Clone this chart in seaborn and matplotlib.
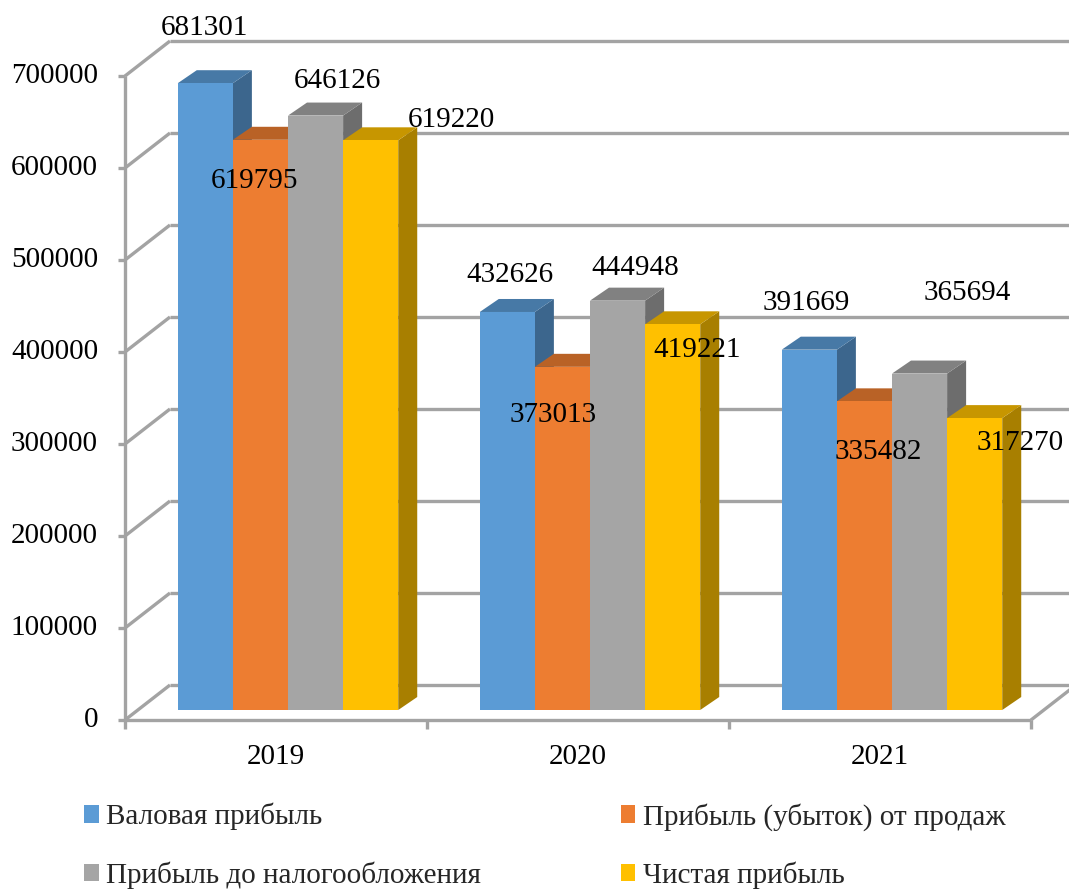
import pandas as pd
import matplotlib.pyplot as plt
import seaborn as sns
from matplotlib.patches import Polygon
from matplotlib.colors import to_rgb

# ==============================
# DATA
# ==============================

years = ['2019', '2020', '2021']
series = ['Валовая прибыль', 'Прибыль (убыток) от продаж',
          'Прибыль до налогообложения', 'Чистая прибыль']
gross = [681301, 432626, 391669]
sales = [619795, 373013, 335482]
pretax = [646126, 444948, 365694]
net = [619220, 419221, 317270]
yticks = [0, 100000, 200000, 300000, 400000, 500000, 600000, 700000]

colors = ['#5B9BD5', '#ED7D31', '#A5A5A5', '#FFC000']

# label offsets in pixels from the top centre of each bar (Excel put them oddly)
label_offsets = [
    [(-1, 55), (3, 37), (-3, 47)],
    [(-6, -41), (-9, -48), (14, -51)],
    [(22, 35), (18, 33), (48, 81)],
    [(81, 20), (24, -26), (45, -25)],
]

df = pd.DataFrame({
    'year': years * 4,
    'series': [s for s in series for _ in years],
    'value': gross + sales + pretax + net,
})

# ==============================
# SETUP
# ==============================

sns.set_style('white')
plt.rcParams['font.family'] = ['Liberation Serif', 'DejaVu Serif']
FS = 21

W, H = 1069, 892
fig = plt.figure(figsize=(W / 100, H / 100), dpi=100)
ax = fig.add_axes([137 / W, 182 / H, 906 / W, 644 / H])

sns.barplot(data=df, x='year', y='value', hue='series', palette=colors,
            width=0.73, saturation=1, ax=ax, linewidth=0)

ax.set_xlim(-0.5, 2.5)
ax.set_ylim(0, 700000)

# pixel -> data units
px = 1 / 302
py = 700000 / 644
FX, FY = -12 * px, -10 * py     # front plane
BX, BY = 33 * px, 25 * py       # back wall
DX, DY = 19 * px, 13 * py       # bar depth
L, R = -0.5, 2.5

handles, labels = ax.get_legend_handles_labels()
ax.get_legend().remove()

# ==============================
# 3D FRAME
# ==============================

gc = '#A3A3A3'
lw = 2.4
kw = dict(color=gc, lw=lw, clip_on=False, zorder=1, solid_capstyle='butt')

for v in yticks:
    ax.plot([L + FX, L + BX], [v + FY, v + BY], **kw)
    ax.plot([L + BX, R + BX + 0.05], [v + BY, v + BY], **kw)
    ax.plot([L + FX - 7 * px, L + FX], [v + FY, v + FY], **kw)

ax.plot([L + FX, L + FX], [FY, 700000 + FY], **kw)
ax.plot([L + FX, R + FX], [FY, FY], **kw)
ax.plot([R + FX, R + BX], [FY, BY], **kw)
for i in range(len(years) + 1):
    x = L + i + FX
    ax.plot([x, x], [FY, FY - 9 * py], **kw)

# ==============================
# 3D BARS
# ==============================

def shade(c, f):
    r, g, b = to_rgb(c)
    return (r * f, g * f, b * f)

for k, cont in enumerate(ax.containers):
    for j, bar in enumerate(cont):
        x0, w, h = bar.get_x(), bar.get_width(), bar.get_height()
        z = 3 + k * 0.1
        bar.set_zorder(z + 0.05)
        side = Polygon([(x0 + w, 0), (x0 + w, h), (x0 + w + DX, h + DY), (x0 + w + DX, DY)],
                       closed=True, facecolor=shade(colors[k], 0.66), edgecolor='none', zorder=z)
        top = Polygon([(x0, h), (x0 + w, h), (x0 + w + DX, h + DY), (x0 + DX, h + DY)],
                      closed=True, facecolor=shade(colors[k], 0.78), edgecolor='none', zorder=z)
        ax.add_patch(side)
        ax.add_patch(top)
        dx, dy = label_offsets[k][j]
        ax.annotate(f'{int(h)}', (x0 + w / 2, h), xytext=(dx, dy),
                    textcoords='offset pixels', ha='center', va='center',
                    fontsize=FS, color='black', zorder=10, annotation_clip=False)

# ==============================
# AXIS TEXT
# ==============================

for v in yticks:
    ax.text(L + FX - 27 * px, v + FY, f'{v}', ha='right', va='center',
            fontsize=FS, color='black', clip_on=False)

for i, yr in enumerate(years):
    ax.text(i + FX, FY - 37 * py, yr, ha='center', va='center',
            fontsize=FS, color='black', clip_on=False)

ax.set_xticks([])
ax.set_yticks([])
ax.set_xlabel('')
ax.set_ylabel('')
for s in ax.spines.values():
    s.set_visible(False)
ax.patch.set_alpha(0)

# ==============================
# LEGEND
# ==============================

order = [0, 2, 1, 3]
fig.legend([handles[i] for i in order], [labels[i] for i in order],
           loc='upper left', bbox_to_anchor=(84 / W, (H - 803) / H),
           ncol=2, frameon=False, fontsize=FS, borderpad=0, borderaxespad=0,
           handlelength=0.5, handleheight=0.55, handletextpad=0.25,
           columnspacing=4.8, labelspacing=1.05)

fig.savefig('out.png', dpi=100)
plt.close(fig)
